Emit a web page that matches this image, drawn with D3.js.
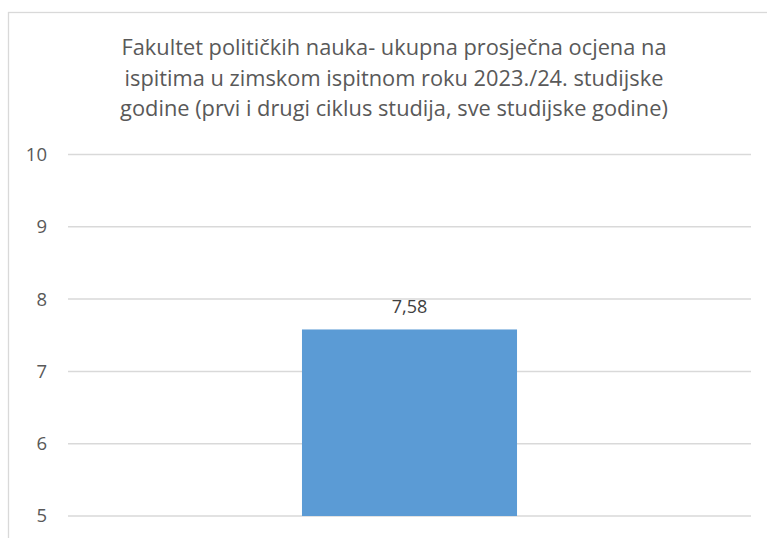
<!DOCTYPE html>
<html>
<head>
<meta charset="utf-8">
<script src="https://cdn.jsdelivr.net/npm/d3@7"></script>
<style>
  body { margin: 0; background: #fff; }
  text { font-family: "Open Sans", "Noto Sans", sans-serif; fill: #595959; }
</style>
</head>
<body>
<svg id="chart"></svg>
<script>
// data
const categories = ['ukupno'];
const values = [7.58];
const valueLabels = ['7,58'];
const yTicks = [5, 6, 7, 8, 9, 10];
const titleLines = [
  'Fakultet političkih nauka- ukupna prosječna ocjena na',
  'ispitima u zimskom ispitnom roku 2023./24. studijske',
  'godine (prvi i drugi ciklus studija, sve studijske godine)'
];

// layout
const W = 767, H = 538;
const margin = {top: 154.5, right: 16, bottom: 22, left: 68};
const width = W - margin.left - margin.right;
const height = H - margin.top - margin.bottom;

const root = d3.select('#chart')
    .attr('width', W)
    .attr('height', H);

// outer chart border (only left & top visible in crop)
root.append('rect')
    .attr('x', 8.5)
    .attr('y', 12.5)
    .attr('width', 800)
    .attr('height', 600)
    .attr('fill', 'none')
    .attr('stroke', '#d9d9d9')
    .attr('stroke-width', 1.3);

// title
root.append('text')
    .attr('text-anchor', 'middle')
    .style('font-size', '21.8px')
    .selectAll('tspan')
    .data(titleLines)
    .enter()
    .append('tspan')
    .attr('x', 394)
    .attr('y', (d, i) => 55 + i * 30.5)
    .text(d => d);

const svg = root.append('g')
    .attr('transform', 'translate(' + margin.left + ',' + margin.top + ')');

const x = d3.scaleBand()
    .domain(categories)
    .range([0, width])
    .paddingInner(0)
    .paddingOuter(1.088);

const y = d3.scaleLinear()
    .domain([5, 10])
    .range([height, 0]);

// gridlines
svg.append('g')
    .selectAll('line')
    .data(yTicks)
    .enter()
    .append('line')
    .attr('x1', 0)
    .attr('x2', width)
    .attr('y1', d => y(d))
    .attr('y2', d => y(d))
    .attr('stroke', '#d9d9d9')
    .attr('stroke-width', 1.5);

// y axis labels
const yAxis = svg.append('g')
    .call(d3.axisLeft(y).tickValues(yTicks).tickFormat(d3.format('d')).tickSize(0).tickPadding(21));
yAxis.select('.domain').remove();
yAxis.selectAll('text')
    .style('font-size', '18.5px')
    .style('font-family', '"Open Sans", "Noto Sans", sans-serif')
    .style('fill', '#595959');

// bars
svg.selectAll('.bar')
    .data(values)
    .enter()
    .append('rect')
    .attr('class', 'bar')
    .attr('x', (d, i) => x(categories[i]))
    .attr('y', d => y(d))
    .attr('width', x.bandwidth())
    .attr('height', d => height - y(d))
    .attr('fill', '#5b9bd5');

// value labels
svg.selectAll('.val')
    .data(values)
    .enter()
    .append('text')
    .attr('class', 'val')
    .attr('x', (d, i) => x(categories[i]) + x.bandwidth() / 2)
    .attr('y', d => y(d) - 16)
    .attr('text-anchor', 'middle')
    .style('font-size', '18px')
    .style('fill', '#404040')
    .text((d, i) => valueLabels[i]);
</script>
</body>
</html>
